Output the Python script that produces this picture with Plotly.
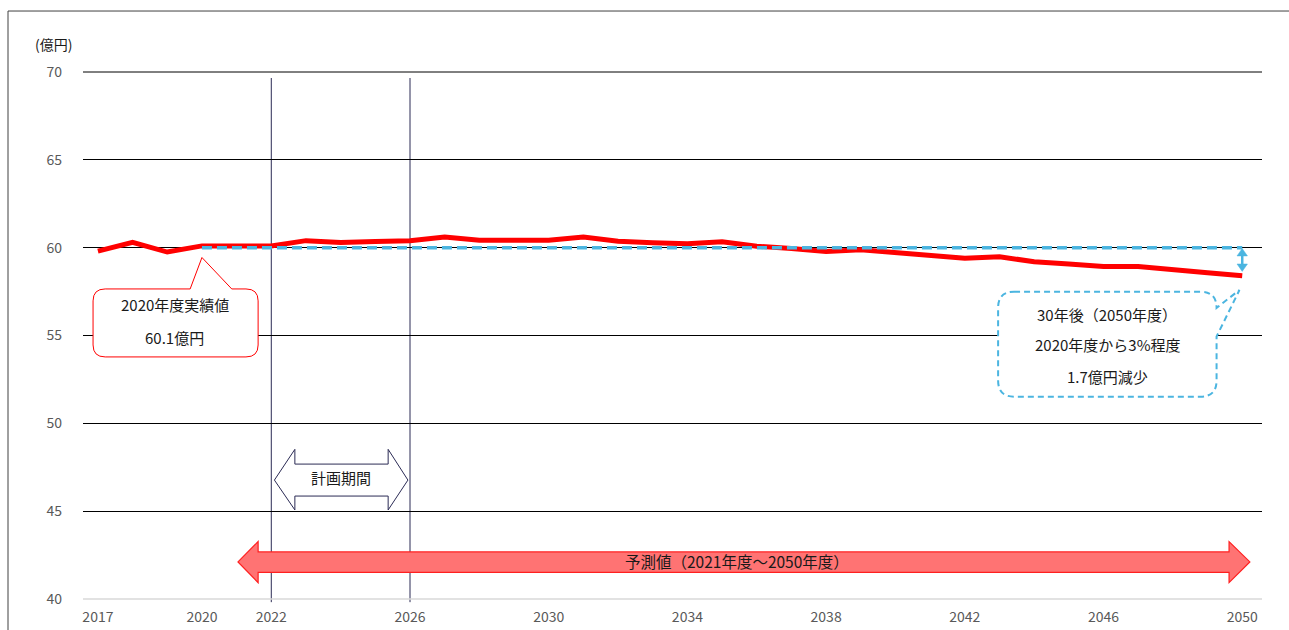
import plotly.graph_objects as go

# Annual revenue (億円), actuals through 2020 and forecast 2021-2050
years = list(range(2017, 2051))
revenue = [59.8, 60.3, 59.75, 60.1, 60.1, 60.1, 60.4, 60.3, 60.35, 60.4,
           60.6, 60.42, 60.42, 60.42, 60.6, 60.36, 60.28, 60.23, 60.34, 60.08,
           59.95, 59.78, 59.88, 59.72, 59.55, 59.4, 59.48, 59.2, 59.07, 58.93,
           58.93, 58.72, 58.57, 58.4]

# Reference level held from the 2020 actual
baseline_years = [2020, 2050]
baseline_values = [60.0, 60.0]

x_ticks = [2017, 2020, 2022, 2026, 2030, 2034, 2038, 2042, 2046, 2050]
y_ticks = [40, 45, 50, 55, 60, 65, 70]
plan_years = [2022, 2026]

FONT = "Noto Sans CJK JP"
RED = "#FF0000"
BLUE = "#4BB5E0"
NAVY = "#2B2B55"
GREY_TXT = "#595959"

fig = go.Figure()

fig.add_trace(go.Scatter(
    x=years, y=revenue, mode="lines",
    line=dict(color=RED, width=5),
    hoverinfo="skip", showlegend=False,
))
fig.add_trace(go.Scatter(
    x=baseline_years, y=baseline_values, mode="lines",
    line=dict(color=BLUE, width=3.5, dash="10px,5px"),
    hoverinfo="skip", showlegend=False,
))

shapes = []

# top gridline at the upper range edge (the axis skips grid lines on its edges)
shapes.append(dict(type="line", xref="paper", yref="paper", x0=0, x1=1, y0=1, y1=1,
                   line=dict(color="#000000", width=1), layer="between"))

# planning-period boundaries
for yr in plan_years:
    shapes.append(dict(type="line", xref="x", yref="paper",
                       x0=yr, x1=yr, y0=-0.006, y1=0.9886,
                       line=dict(color=NAVY, width=1), layer="between"))

# bottom axis line
shapes.append(dict(type="line", xref="paper", yref="paper", x0=0, x1=1, y0=0, y1=0,
                   line=dict(color="#D9D9D9", width=1.5), layer="between"))

# outer frame
shapes.append(dict(type="rect", xref="paper", yref="paper",
                   x0=-0.0636, x1=1.2, y0=-0.3, y1=1.1157,
                   line=dict(color="#404040", width=1)))

# callout for the 2020 actual (red rounded box with pointer)
cx0, cx1, cy0, cy1 = 2016.86, 2021.62, 53.78, 57.65
rx, ry = 0.35, 0.68
red_callout = (f"M {cx0 + rx},{cy1} L 2019.66,{cy1} L 2020.0,59.44 L 2020.86,{cy1} "
               f"L {cx1 - rx},{cy1} Q {cx1},{cy1} {cx1},{cy1 - ry} "
               f"L {cx1},{cy0 + ry} Q {cx1},{cy0} {cx1 - rx},{cy0} "
               f"L {cx0 + rx},{cy0} Q {cx0},{cy0} {cx0},{cy0 + ry} "
               f"L {cx0},{cy1 - ry} Q {cx0},{cy1} {cx0 + rx},{cy1} Z")
shapes.append(dict(type="path", xref="x", yref="y", path=red_callout,
                   fillcolor="white", line=dict(color=RED, width=1)))

# callout for the 2050 outlook (blue dashed rounded box with pointer)
bx0, bx1, by0, by1 = 2042.96, 2049.26, 51.52, 57.49
brx, bry = 0.46, 0.92
blue_callout = (f"M {bx0 + brx},{by1} L {bx1 - brx},{by1} Q {bx1},{by1} {bx1},{by1 - bry} "
                f"L 2049.92,57.59 L {bx1},54.94 "
                f"L {bx1},{by0 + bry} Q {bx1},{by0} {bx1 - brx},{by0} "
                f"L {bx0 + brx},{by0} Q {bx0},{by0} {bx0},{by0 + bry} "
                f"L {bx0},{by1 - bry} Q {bx0},{by1} {bx0 + brx},{by1} Z")
shapes.append(dict(type="path", xref="x", yref="y", path=blue_callout,
                   fillcolor="white", line=dict(color=BLUE, width=2, dash="6px,4px")))

# decrease marker between the 2020 level and the 2050 forecast (two-headed arrow)
ax_x, top_y, bot_y = 2050, 59.95, 58.65
hw, hh = 0.15, 0.42
shapes.append(dict(type="line", xref="x", yref="y", x0=ax_x, x1=ax_x,
                   y0=top_y - hh, y1=bot_y + hh, line=dict(color=BLUE, width=2.5)))
shapes.append(dict(type="path", xref="x", yref="y",
                   path=f"M {ax_x},{top_y} L {ax_x + hw},{top_y - hh} L {ax_x - hw},{top_y - hh} Z",
                   fillcolor=BLUE, line=dict(color=BLUE, width=0.5)))
shapes.append(dict(type="path", xref="x", yref="y",
                   path=f"M {ax_x},{bot_y} L {ax_x + hw},{bot_y + hh} L {ax_x - hw},{bot_y + hh} Z",
                   fillcolor=BLUE, line=dict(color=BLUE, width=0.5)))

# planning-period double arrow
plan_arrow = ("M 2022.09,46.77 L 2022.68,48.52 L 2022.68,47.68 L 2025.37,47.68 "
              "L 2025.37,48.52 L 2025.94,46.77 L 2025.37,45.07 L 2025.37,45.86 "
              "L 2022.68,45.86 L 2022.68,45.07 Z")
shapes.append(dict(type="path", xref="x", yref="y", path=plan_arrow,
                   fillcolor="white", line=dict(color=NAVY, width=1)))

# forecast-period double arrow
fc_arrow = ("M 2021.04,42.11 L 2021.62,43.27 L 2021.62,42.68 L 2049.62,42.68 "
            "L 2049.62,43.27 L 2050.22,42.11 L 2049.62,40.93 L 2049.62,41.51 "
            "L 2021.62,41.51 L 2021.62,40.93 Z")
shapes.append(dict(type="path", xref="x", yref="y", path=fc_arrow,
                   fillcolor="#FF7373", line=dict(color="#FF2020", width=1.2)))

txt = dict(family=FONT, size=15, color="#1A1A1A")
annotations = [
    dict(x=-0.0246, y=1.0531, xref="paper", yref="paper", text="(億円)",
         xanchor="center", yanchor="middle",
         showarrow=False, font=dict(family=FONT, size=14, color="#1A1A1A")),
    dict(x=2019.22, y=56.74, xref="x", yref="y", text="2020年度実績値", showarrow=False, font=txt),
    dict(x=2019.22, y=54.86, xref="x", yref="y", text="60.1億円", showarrow=False, font=txt),
    dict(x=2046.1, y=56.22, xref="x", yref="y", text="30年後（2050年度）", showarrow=False, font=txt),
    dict(x=2046.1, y=54.46, xref="x", yref="y", text="2020年度から3%程度", showarrow=False, font=txt),
    dict(x=2046.1, y=52.69, xref="x", yref="y", text="1.7億円減少", showarrow=False, font=txt),
    dict(x=2024.01, y=46.89, xref="x", yref="y", text="計画期間", showarrow=False, font=txt),
    dict(x=2035.43, y=42.16, xref="x", yref="y", text="予測値（2021年度～2050年度）",
         showarrow=False, font=dict(family=FONT, size=15.5, color="#1A1A1A")),
]

fig.update_layout(
    width=1289, height=630,
    margin=dict(l=83, r=27, t=72, b=31, autoexpand=False),
    paper_bgcolor="white", plot_bgcolor="white",
    shapes=shapes, annotations=annotations,
    font=dict(family=FONT),
    xaxis=dict(range=[2016.57, 2050.57], tickvals=x_ticks, ticktext=[str(v) for v in x_ticks],
               showgrid=False, zeroline=False, showline=False, ticks="", automargin=False,
               tickfont=dict(family=FONT, size=14, color=GREY_TXT), ticklabelstandoff=8),
    yaxis=dict(range=[40, 70], tickvals=y_ticks, showgrid=True, gridcolor="#000000",
               gridwidth=1, zeroline=False, showline=False, ticks="", automargin=False,
               tickfont=dict(family=FONT, size=14, color=GREY_TXT), ticklabelstandoff=20),
    showlegend=False,
)

fig.write_html("out.html")
